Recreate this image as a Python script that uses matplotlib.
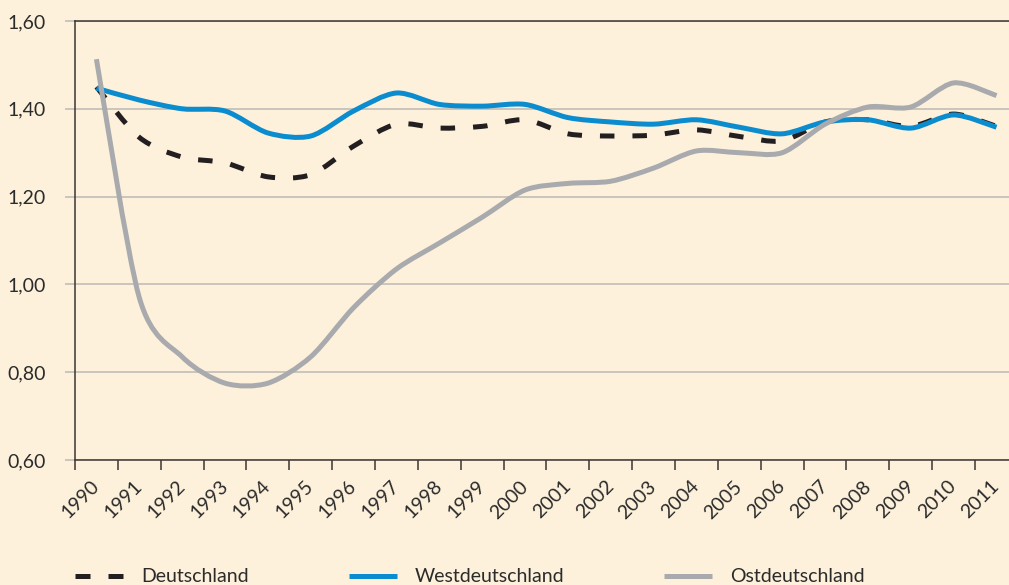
import matplotlib.pyplot as plt
from matplotlib.path import Path
from matplotlib.patches import PathPatch
from matplotlib.lines import Line2D
from matplotlib.ticker import FuncFormatter

plt.rcParams['font.family'] = ['Lato', 'DejaVu Sans']

# Zusammengefasste Geburtenziffer, Werte
years = list(range(1990, 2012))
deutschland = [1.45, 1.335, 1.29, 1.277, 1.245, 1.25, 1.315, 1.365, 1.356, 1.36, 1.375,
               1.343, 1.338, 1.34, 1.352, 1.337, 1.327, 1.37, 1.375, 1.36, 1.388, 1.36]
westdeutschland = [1.447, 1.42, 1.40, 1.395, 1.345, 1.338, 1.395, 1.436, 1.41, 1.406, 1.41,
                   1.38, 1.37, 1.365, 1.375, 1.358, 1.343, 1.37, 1.375, 1.356, 1.386, 1.358]
ostdeutschland = [1.513, 0.97, 0.835, 0.775, 0.775, 0.835, 0.947, 1.035, 1.094, 1.153, 1.215,
                  1.23, 1.235, 1.265, 1.304, 1.30, 1.30, 1.365, 1.404, 1.404, 1.459, 1.43]

bg = '#fdf1db'
dark = '#3a3633'
grid_col = '#bcbab4'
c_de = '#231f20'
c_west = '#0a8ccf'
c_ost = '#a9aaad'
lw = 3.6
dash = (0, (2.9, 3.6))


def smooth_path(xs, ys, k=7.0):
    """geglaettete Linie wie in Excel (Catmull-Rom als Bezier)"""
    verts = [(xs[0], ys[0])]
    codes = [Path.MOVETO]
    n = len(xs)
    for i in range(n - 1):
        x0, y0 = (xs[i - 1], ys[i - 1]) if i > 0 else (xs[i], ys[i])
        x1, y1 = xs[i], ys[i]
        x2, y2 = xs[i + 1], ys[i + 1]
        x3, y3 = (xs[i + 2], ys[i + 2]) if i + 2 < n else (x2, y2)
        verts += [(x1 + (x2 - x0) / k, y1 + (y2 - y0) / k),
                  (x2 - (x3 - x1) / k, y2 - (y3 - y1) / k),
                  (x2, y2)]
        codes += [Path.CURVE4] * 3
    return Path(verts, codes)


W, H = 1009, 585
fig = plt.figure(figsize=(W / 100, H / 100), dpi=100)
fig.patch.set_facecolor(bg)
ax = fig.add_axes([75 / W, 1 - 460 / H, (W - 75) / W, (460 - 21) / H])
ax.set_facecolor(bg)

xs = list(range(len(years)))
series = [(deutschland, c_de, dash, 2), (westdeutschland, c_west, '-', 3),
          (ostdeutschland, c_ost, '-', 4)]
for vals, col, ls, z in series:
    p = PathPatch(smooth_path(xs, vals), fill=False, edgecolor=col, lw=lw,
                  linestyle=ls, capstyle='butt', joinstyle='round', zorder=z)
    ax.add_patch(p)

ax.set_xlim(-0.5, -0.5 + (W - 75) / 42.86)
ax.set_ylim(0.6, 1.6)

# y-Achse
ax.set_yticks([0.6, 0.8, 1.0, 1.2, 1.4, 1.6])
ax.yaxis.set_major_formatter(FuncFormatter(lambda v, p: f'{v:.2f}'.replace('.', ',')))
ax.tick_params(axis='y', length=7, width=1.1, color=grid_col, pad=14,
               labelsize=14, labelcolor='#2b2b2b')
ax.set_axisbelow(True)
ax.yaxis.grid(True, color=grid_col, lw=1.1)
for t in ax.yaxis.get_major_ticks():
    if abs(t.get_loc() - 0.6) < 1e-6 or abs(t.get_loc() - 1.6) < 1e-6:
        t.tick1line.set_color(dark)

# x-Achse: Beschriftung in der Kategoriemitte, Striche an den Grenzen
ax.set_xticks(xs)
ax.set_xticklabels([str(y) for y in years], rotation=45, ha='right',
                   rotation_mode='anchor', va='center')
ax.set_xticks([x - 0.5 for x in xs], minor=True)
ax.tick_params(axis='x', which='major', length=0, pad=17, labelsize=14,
               labelcolor='#2b2b2b')
ax.tick_params(axis='x', which='minor', length=7, width=1.1, color=dark)

ax.spines['right'].set_visible(False)
for s in ['left', 'top', 'bottom']:
    ax.spines[s].set_color(dark)
    ax.spines[s].set_linewidth(1.1)

handles = [Line2D([], [], color=c_de, lw=lw, linestyle=(0, (3.0, 3.6)), dash_capstyle='butt'),
           Line2D([], [], color=c_west, lw=lw, solid_capstyle='butt'),
           Line2D([], [], color=c_ost, lw=lw, solid_capstyle='butt')]
fs = 14
fpx = fs * 100 / 72
fig.legend(handles, ['Deutschland', 'Westdeutschland', 'Ostdeutschland'],
           loc='center left', bbox_to_anchor=(75 / W, 1 - 577 / H), ncol=3,
           frameon=False, fontsize=fs, handlelength=48 / fpx, handletextpad=18 / fpx,
           columnspacing=100 / fpx, borderpad=0, borderaxespad=0,
           labelcolor='#2b2b2b')

fig.savefig('out.png', dpi=100, facecolor=bg)
